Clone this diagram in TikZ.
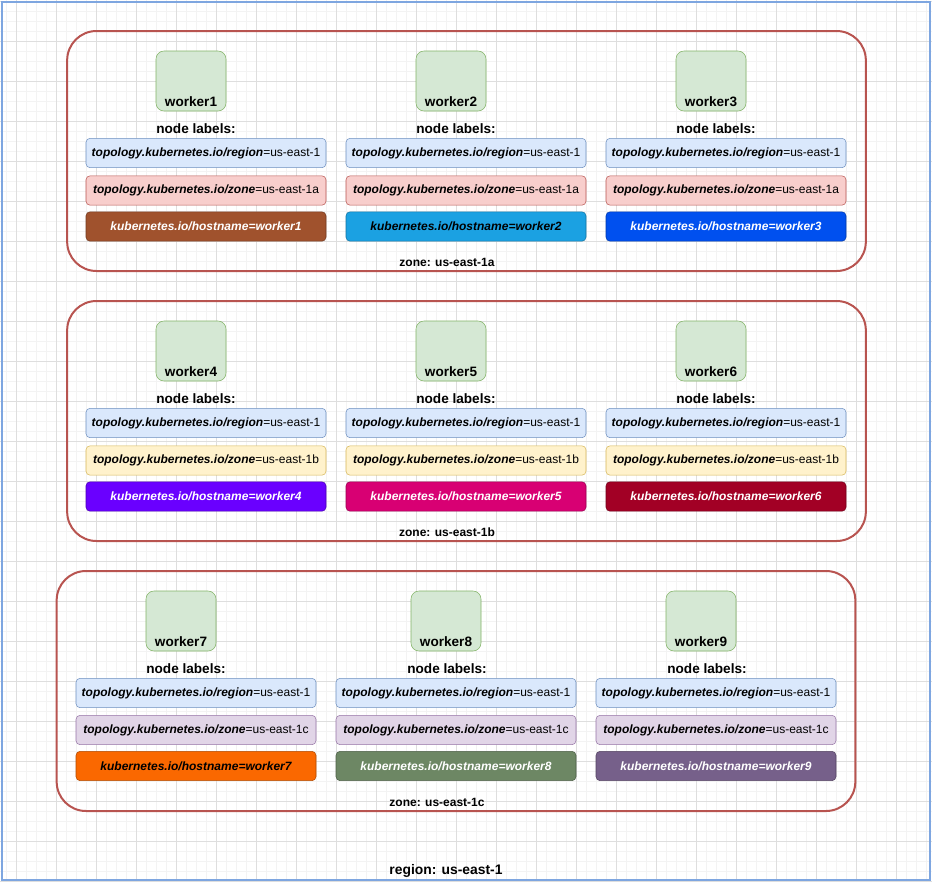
\documentclass[tikz,border=0pt]{standalone}
\usepackage{fontspec}
\setmainfont{Liberation Sans}
\definecolor{gridmin}{HTML}{F3F3F3}
\definecolor{gridmaj}{HTML}{DEDEDE}
\definecolor{frameblue}{HTML}{7EA6E0}
\definecolor{zonered}{HTML}{B85450}
\definecolor{wgreen}{HTML}{D5E8D4}
\definecolor{wgreenline}{HTML}{82B366}
\definecolor{regfill}{HTML}{DAE8FC}
\definecolor{regline}{HTML}{6C8EBF}
\definecolor{zafill}{HTML}{F8CECC}
\definecolor{zaline}{HTML}{B85450}
\definecolor{zbfill}{HTML}{FFF2CC}
\definecolor{zbline}{HTML}{D6B656}
\definecolor{zcfill}{HTML}{E1D5E7}
\definecolor{zcline}{HTML}{9673A6}
\definecolor{hostone}{HTML}{A0522D}
\definecolor{hosttwo}{HTML}{1BA1E2}
\definecolor{hostthree}{HTML}{0050EF}
\definecolor{hostfour}{HTML}{6A00FF}
\definecolor{hostfive}{HTML}{D80073}
\definecolor{hostsix}{HTML}{A20025}
\definecolor{hostseven}{HTML}{FA6800}
\definecolor{hosteight}{HTML}{6D8764}
\definecolor{hostnine}{HTML}{76608A}
\begin{document}
\begin{tikzpicture}[x=0.75pt,y=-0.75pt,
    zone box/.style={draw=zonered,line width=1.5pt,rounded corners=22pt,minimum width=599pt,minimum height=180pt,inner sep=0},
    worker node/.style={draw=wgreenline,fill=wgreen,rounded corners=6pt,minimum width=52.5pt,minimum height=45pt,inner sep=0},
    name font/.style={font=\fontsize{10.2}{12}\selectfont\bfseries},
    tag/.style={rounded corners=3pt,minimum width=180pt,minimum height=22pt,inner sep=0,font=\fontsize{9}{11}\selectfont},
    region tag/.style={tag,draw=regline,fill=regfill},
    zone a tag/.style={tag,draw=zaline,fill=zafill},
    zone b tag/.style={tag,draw=zbline,fill=zbfill},
    zone c tag/.style={tag,draw=zcline,fill=zcfill},
    host tag/.style={tag,fill=#1,draw=#1!70!black,text=white,font=\fontsize{9}{11}\selectfont\bfseries\itshape},
    caption/.style={font=\fontsize{9}{11}\selectfont\bfseries}]
    \useasboundingbox (0,0) rectangle (932,882);
    % background grid
    \foreach \x in {6,16,...,926} \draw[gridmin,line width=0.75pt] (\x,0) -- (\x,882);
    \foreach \y in {1,11,...,881} \draw[gridmin,line width=0.75pt] (0,\y) -- (932,\y);
    \foreach \x in {16,56,...,896} \draw[gridmaj,line width=0.75pt] (\x,0) -- (\x,882);
    \foreach \y in {1,41,...,881} \draw[gridmaj,line width=0.75pt] (0,\y) -- (932,\y);
    \draw[frameblue,line width=1.5pt] (2,2) rectangle (930,880);

    % zones
    \node[zone box] at (466.5,151) (zoneA) {};
    \node[zone box] at (466.5,421) (zoneB) {};
    \node[zone box] at (456,691) (zoneC) {};
    \node[caption] at (447,262) (zoneAlabel) {zone: us-east-1a};
    \node[caption] at (447,532) (zoneBlabel) {zone: us-east-1b};
    \node[caption] at (437,802) (zoneClabel) {zone: us-east-1c};
    \node[font=\fontsize{10.4}{12}\selectfont\bfseries] at (446,871) (region) {region: us-east-1};

    % zone us-east-1a
    \node[worker node,label={[name font,anchor=south,inner sep=3pt]south:worker1}] at (191,81) (w1) {};
    \node[worker node,label={[name font,anchor=south,inner sep=3pt]south:worker2}] at (451,81) (w2) {};
    \node[worker node,label={[name font,anchor=south,inner sep=3pt]south:worker3}] at (711,81) (w3) {};
    \node[name font] at (196,129) (l1) {node labels:};
    \node[name font] at (456,129) (l2) {node labels:};
    \node[name font] at (716,129) (l3) {node labels:};
    \node[region tag] at (206,153) (r1) {\textbf{\textit{topology.kubernetes.io/region}}=us-east-1};
    \node[region tag] at (466,153) (r2) {\textbf{\textit{topology.kubernetes.io/region}}=us-east-1};
    \node[region tag] at (726,153) (r3) {\textbf{\textit{topology.kubernetes.io/region}}=us-east-1};
    \node[zone a tag] at (206,190.5) (z1) {\textbf{\textit{topology.kubernetes.io/zone}}=us-east-1a};
    \node[zone a tag] at (466,190.5) (z2) {\textbf{\textit{topology.kubernetes.io/zone}}=us-east-1a};
    \node[zone a tag] at (726,190.5) (z3) {\textbf{\textit{topology.kubernetes.io/zone}}=us-east-1a};
    \node[host tag=hostone] at (206,226.5) (h1) {kubernetes.io/hostname=worker1};
    \node[host tag=hosttwo,text=black] at (466,226.5) (h2) {kubernetes.io/hostname=worker2};
    \node[host tag=hostthree] at (726,226.5) (h3) {kubernetes.io/hostname=worker3};

    % zone us-east-1b
    \node[worker node,label={[name font,anchor=south,inner sep=3pt]south:worker4}] at (191,351) (w4) {};
    \node[worker node,label={[name font,anchor=south,inner sep=3pt]south:worker5}] at (451,351) (w5) {};
    \node[worker node,label={[name font,anchor=south,inner sep=3pt]south:worker6}] at (711,351) (w6) {};
    \node[name font] at (196,399) (l4) {node labels:};
    \node[name font] at (456,399) (l5) {node labels:};
    \node[name font] at (716,399) (l6) {node labels:};
    \node[region tag] at (206,423) (r4) {\textbf{\textit{topology.kubernetes.io/region}}=us-east-1};
    \node[region tag] at (466,423) (r5) {\textbf{\textit{topology.kubernetes.io/region}}=us-east-1};
    \node[region tag] at (726,423) (r6) {\textbf{\textit{topology.kubernetes.io/region}}=us-east-1};
    \node[zone b tag] at (206,460.5) (z4) {\textbf{\textit{topology.kubernetes.io/zone}}=us-east-1b};
    \node[zone b tag] at (466,460.5) (z5) {\textbf{\textit{topology.kubernetes.io/zone}}=us-east-1b};
    \node[zone b tag] at (726,460.5) (z6) {\textbf{\textit{topology.kubernetes.io/zone}}=us-east-1b};
    \node[host tag=hostfour] at (206,496.5) (h4) {kubernetes.io/hostname=worker4};
    \node[host tag=hostfive] at (466,496.5) (h5) {kubernetes.io/hostname=worker5};
    \node[host tag=hostsix] at (726,496.5) (h6) {kubernetes.io/hostname=worker6};

    % zone us-east-1c
    \node[worker node,label={[name font,anchor=south,inner sep=3pt]south:worker7}] at (181,621) (w7) {};
    \node[worker node,label={[name font,anchor=south,inner sep=3pt]south:worker8}] at (446,621) (w8) {};
    \node[worker node,label={[name font,anchor=south,inner sep=3pt]south:worker9}] at (701,621) (w9) {};
    \node[name font] at (186,669) (l7) {node labels:};
    \node[name font] at (447,669) (l8) {node labels:};
    \node[name font] at (707,669) (l9) {node labels:};
    \node[region tag] at (196,693) (r7) {\textbf{\textit{topology.kubernetes.io/region}}=us-east-1};
    \node[region tag] at (456,693) (r8) {\textbf{\textit{topology.kubernetes.io/region}}=us-east-1};
    \node[region tag] at (716,693) (r9) {\textbf{\textit{topology.kubernetes.io/region}}=us-east-1};
    \node[zone c tag] at (196,730) (z7) {\textbf{\textit{topology.kubernetes.io/zone}}=us-east-1c};
    \node[zone c tag] at (456,730) (z8) {\textbf{\textit{topology.kubernetes.io/zone}}=us-east-1c};
    \node[zone c tag] at (716,730) (z9) {\textbf{\textit{topology.kubernetes.io/zone}}=us-east-1c};
    \node[host tag=hostseven,text=black] at (196,766) (h7) {kubernetes.io/hostname=worker7};
    \node[host tag=hosteight] at (456,766) (h8) {kubernetes.io/hostname=worker8};
    \node[host tag=hostnine] at (716,766) (h9) {kubernetes.io/hostname=worker9};
\end{tikzpicture}
\end{document}
